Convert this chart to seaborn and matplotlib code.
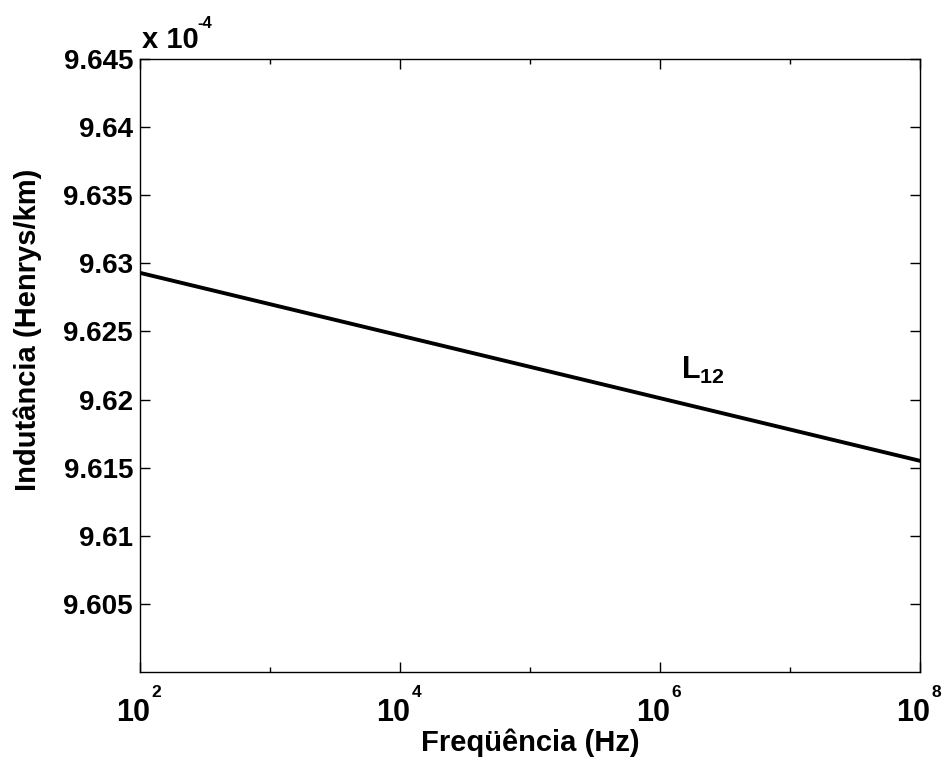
import numpy as np
import pandas as pd
import matplotlib
matplotlib.use("Agg")
import matplotlib.pyplot as plt
import matplotlib.transforms as mtrans
import seaborn as sns
from matplotlib.ticker import FixedLocator, FixedFormatter, NullFormatter

# Data (inductance in units of 1e-4 H/km)
freq_hz = [1e2, 1e3, 1e4, 1e5, 1e6, 1e7, 1e8]
l12_e4 = [9.6293, 9.6270, 9.6247, 9.6224, 9.6201, 9.6178, 9.6155]
ytick_vals = [9.605, 9.61, 9.615, 9.62, 9.625, 9.63, 9.635, 9.64, 9.645]
ytick_labels = ["9.605", "9.61", "9.615", "9.62", "9.625", "9.63", "9.635", "9.64", "9.645"]
xtick_vals = [1e2, 1e4, 1e6, 1e8]
xtick_exps = ["2", "4", "6", "8"]
xminor_vals = [1e3, 1e5, 1e7]

sns.set_style("ticks")
plt.rcParams["font.family"] = ["Liberation Sans", "DejaVu Sans"]
plt.rcParams["font.weight"] = "bold"
plt.rcParams["text.color"] = "black"
plt.rcParams["axes.labelcolor"] = "black"
plt.rcParams["xtick.color"] = "black"
plt.rcParams["ytick.color"] = "black"
plt.rcParams["mathtext.fontset"] = "custom"
plt.rcParams["mathtext.rm"] = "Liberation Sans:bold"
plt.rcParams["mathtext.bf"] = "Liberation Sans:bold"
plt.rcParams["mathtext.it"] = "Liberation Sans:bold"

df = pd.DataFrame({"freq": freq_hz, "L12": l12_e4})

fig = plt.figure(figsize=(9.44, 7.67), dpi=100)
ax = fig.add_axes([0.1483, 0.1239, 0.8263, 0.7992])
sns.lineplot(data=df, x="freq", y="L12", ax=ax, color="black", linewidth=2.8)
ax.set_xscale("log")
ax.set_xlim(1e2, 1e8)
ax.set_ylim(9.600, 9.645)

ax.xaxis.set_major_locator(FixedLocator(xtick_vals))
ax.xaxis.set_major_formatter(FixedFormatter(["10"] * len(xtick_vals)))
ax.xaxis.set_minor_locator(FixedLocator(xminor_vals))
ax.xaxis.set_minor_formatter(NullFormatter())
ax.yaxis.set_major_locator(FixedLocator(ytick_vals))
ax.yaxis.set_major_formatter(FixedFormatter(ytick_labels))
ax.yaxis.set_minor_locator(FixedLocator([]))

ax.tick_params(axis="both", which="major", direction="in", length=7, width=1.0,
               top=True, right=True, colors="black")
ax.tick_params(axis="both", which="minor", direction="in", length=3.5, width=1.0,
               top=True, right=True, colors="black")
ax.tick_params(axis="y", labelsize=20, pad=5)
ax.tick_params(axis="x", labelsize=22, pad=19)
for lab in ax.get_yticklabels() + ax.get_xticklabels():
    lab.set_fontweight("bold")
    lab.set_color("black")
shift = mtrans.ScaledTranslation(-7 / 100, 0, fig.dpi_scale_trans)
for lab in ax.get_xticklabels():
    lab.set_transform(lab.get_transform() + shift)
for xv, e in zip(xtick_vals, xtick_exps):
    ax.annotate(e, xy=(xv, 0), xycoords=("data", "axes fraction"),
                xytext=(8.5, -9.5), textcoords="offset points",
                fontsize=12.5, fontweight="bold", ha="left", va="top",
                color="black", annotation_clip=False)

for s in ax.spines.values():
    s.set_linewidth(1.0)
    s.set_color("black")

ax.set_xlabel("Freqüência (Hz)", fontsize=21, fontweight="bold", color="black")
ax.xaxis.set_label_coords(0.5, -0.093)
ax.set_ylabel("Indutância (Henrys/km)", fontsize=21, fontweight="bold", color="black")
ax.yaxis.set_label_coords(-0.1256, 0.558)

ax.annotate("x 10", xy=(0, 1), xycoords="axes fraction", xytext=(1.2, 7.9),
            textcoords="offset points", fontsize=21, fontweight="bold",
            ha="left", va="baseline", color="black")
ax.annotate("-4", xy=(0, 1), xycoords="axes fraction", xytext=(41.5, 22.5),
            textcoords="offset points", fontsize=12, fontweight="bold",
            ha="left", va="baseline", color="black")
ax.text(1.45e6, 9.6221, r"L$_{12}$", fontsize=22, fontweight="bold",
        ha="left", va="center", color="black")

fig.savefig("out.png", dpi=100, facecolor="white")
